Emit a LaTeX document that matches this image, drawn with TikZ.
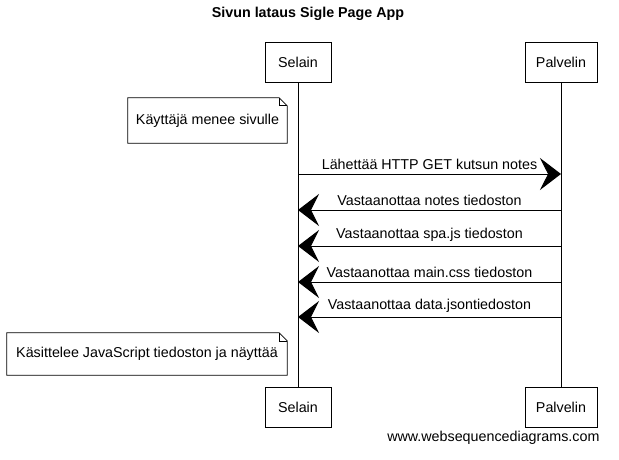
\documentclass[tikz,border=0pt]{standalone}
\usepackage{fontspec}
\setmainfont{Liberation Sans}
\tikzset{actor/.style = {draw, line width=0.8pt, minimum width=66pt, minimum height=40pt, font=\fontsize{14.3}{17}\selectfont},
         msg/.style = {-{Stealth[length=21pt,width=32pt,inset=8pt]}, line width=1pt},
         notetext/.style = {inner sep=0pt, font=\fontsize{14.3}{17}\selectfont}}
\usetikzlibrary{calc,arrows.meta}
\begin{document}
\begin{tikzpicture}[x=1pt,y=-1pt]
\useasboundingbox (0,0) rectangle (619,460);
\node [font=\fontsize{14.3}{17}\selectfont\bfseries] (title) at (308,14) {Sivun lataus Sigle Page App};
% osapuolet
\node [actor] (selain) at (298,62) {Selain};
\node [actor, minimum width=72pt] (palvelin) at (561,62) {Palvelin};
\node [actor] (selainb) at (298,407) {Selain};
\node [actor, minimum width=72pt] (palvelinb) at (561,407) {Palvelin};
\draw [line width=0.8pt] (selain) -- (selainb);
\draw [line width=0.8pt] (palvelin) -- (palvelinb);
% muistiinpanot
\node [notetext, minimum width=159pt, minimum height=45pt] (kayttaja) at (207.5,120.5) {Käyttäjä menee sivulle};
\node [notetext, minimum width=280pt, minimum height=42pt] (kasittelee) at (147,354) {Käsittelee JavaScript tiedoston ja näyttää};
\foreach \n in {kayttaja,kasittelee} {
  \draw [line width=0.8pt] (\n.north west) -- ($(\n.north east)+(-8,0)$) -- ($(\n.north east)+(0,8)$) -- (\n.south east) -- (\n.south west) -- cycle;
  \draw [line width=0.6pt] ($(\n.north east)+(-8,0)$) -- ($(\n.north east)+(-8,8)$) -- ($(\n.north east)+(0,8)$);
}
% viestit
\foreach \y [count=\i] in {174,210,246,282,317} {
  \coordinate (s\i) at (selain |- 0,\y);
  \coordinate (p\i) at (palvelin |- 0,\y);
}
\draw [msg] (s1) -- (p1) node [midway, above=1pt, font=\fontsize{14.3}{17}\selectfont] {Lähettää HTTP GET kutsun notes};
\draw [msg] (p2) -- (s2) node [midway, above=1pt, font=\fontsize{14.3}{17}\selectfont] {Vastaanottaa notes tiedoston};
\draw [msg] (p3) -- (s3) node [midway, above=1pt, font=\fontsize{14.3}{17}\selectfont] {Vastaanottaa spa.js tiedoston};
\draw [msg] (p4) -- (s4) node [midway, above=1pt, font=\fontsize{14.3}{17}\selectfont] {Vastaanottaa main.css tiedoston};
\draw [msg] (p5) -- (s5) node [midway, above=1pt, font=\fontsize{14.3}{17}\selectfont] {Vastaanottaa data.jsontiedoston};
\node [anchor=east, font=\fontsize{14.3}{17}\selectfont] (wsd) at (603,438) {www.websequencediagrams.com};
\end{tikzpicture}
\end{document}
